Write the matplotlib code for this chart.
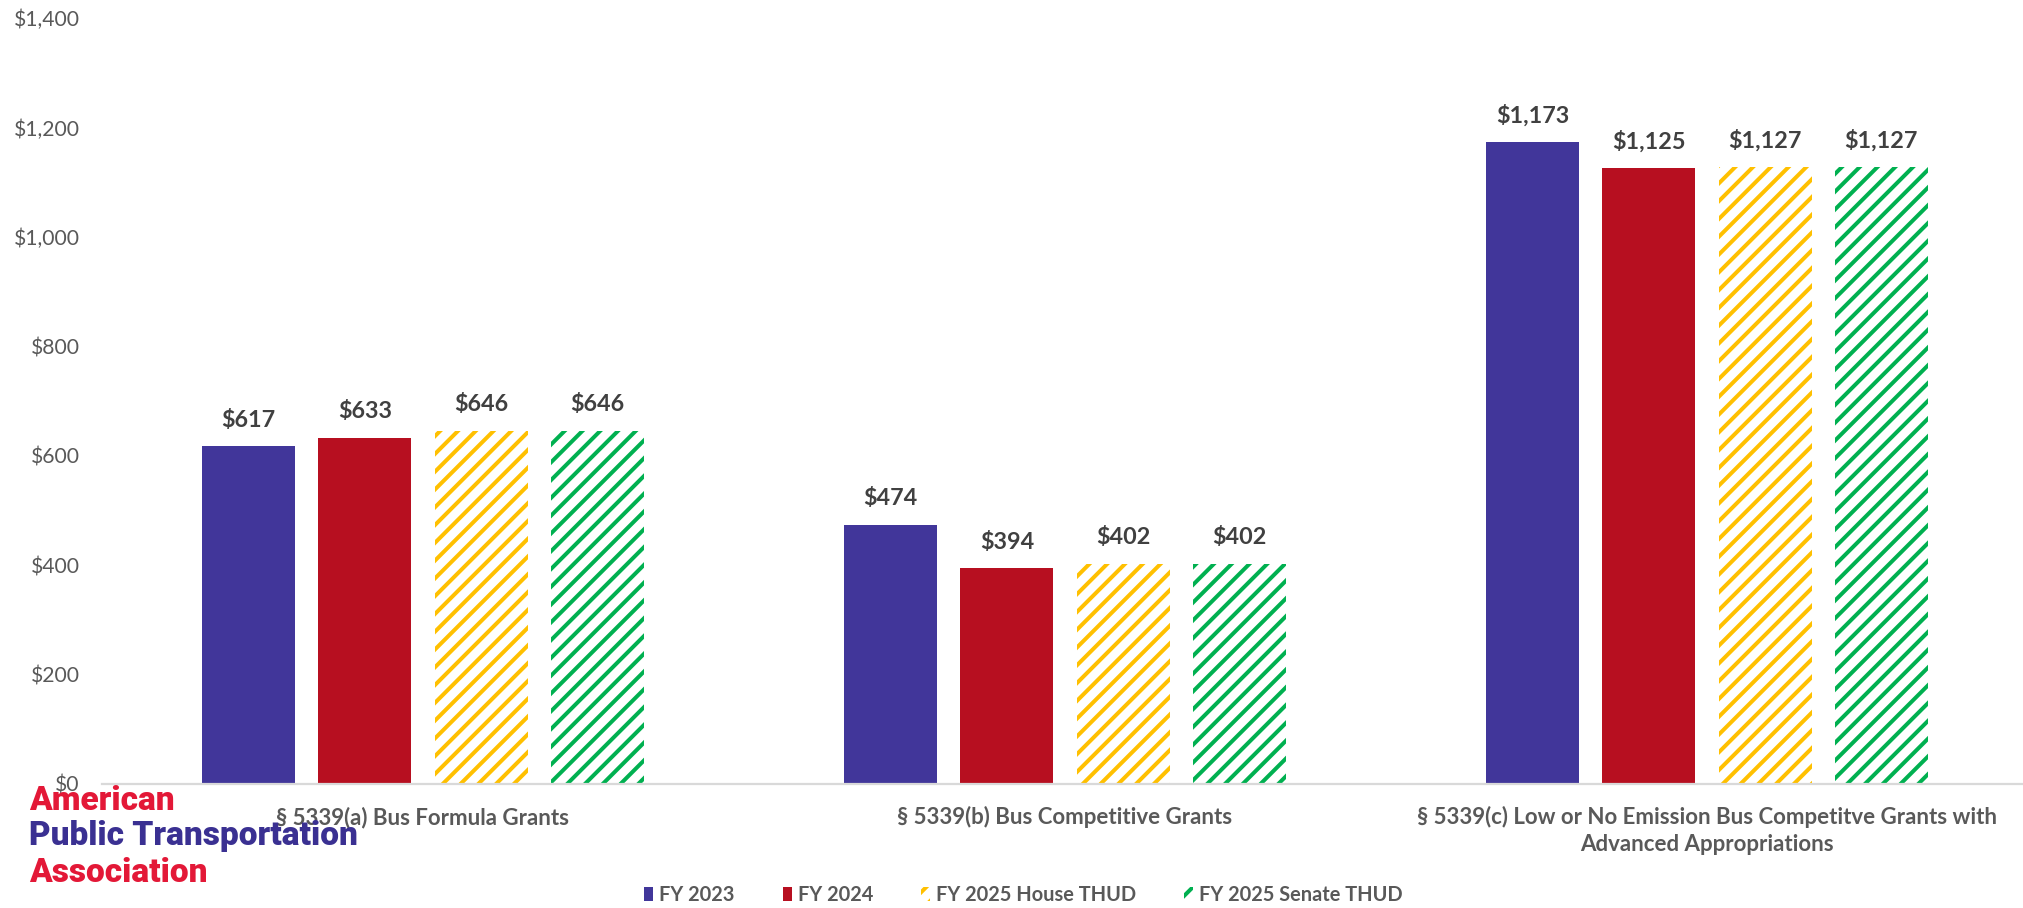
import matplotlib.pyplot as plt
import numpy as np

plt.rcParams['font.family'] = ['Lato', 'DejaVu Sans']
plt.rcParams['hatch.linewidth'] = 1.8

categories = ['§ 5339(a) Bus Formula Grants',
              '§ 5339(b) Bus Competitive Grants',
              '§ 5339(c) Low or No Emission Bus Competitve Grants with\nAdvanced Appropriations']
series = ['FY 2023', 'FY 2024', 'FY 2025 House THUD', 'FY 2025 Senate THUD']
fy2023 = [617, 474, 1173]
fy2024 = [633, 394, 1125]
house = [646, 402, 1127]
senate = [646, 402, 1127]
yticks = [0, 200, 400, 600, 800, 1000, 1200, 1400]

colors = ['#41369A', '#B70F20', '#FFC000', '#00B050']
hatched = [False, False, True, True]
values = [fy2023, fy2024, house, senate]

fig = plt.figure(figsize=(2023 / 160, 908 / 160), dpi=160)
ax = fig.add_axes([102 / 2023, 124 / 908, 1926 / 2023, 766 / 908])

x = np.arange(len(categories))
step = 0.181
width = 0.145
for i in range(4):
    off = (i - 1.5) * step
    if hatched[i]:
        bars = ax.bar(x + off, values[i], width, facecolor='white', edgecolor=colors[i],
                      linewidth=0, hatch='///', label=series[i])
    else:
        bars = ax.bar(x + off, values[i], width, color=colors[i], label=series[i])
    ax.bar_label(bars, fmt=lambda v: f'${v:,.0f}', padding=7, fontsize=10.5,
                 fontweight='bold', color='#404040')

ax.set_xlim(-0.5, 2.5)
ax.set_ylim(0, 1400)
ax.set_yticks(yticks)
ax.set_yticklabels([f'${v:,}' for v in yticks])
ax.set_xticks(x)
ax.set_xticklabels(categories, fontweight='bold', fontsize=10, color='#595959',
                   linespacing=1.35)
ax.tick_params(axis='y', length=0, pad=10, labelsize=9.5, labelcolor='#595959')
ax.tick_params(axis='x', length=0, pad=10)
for s in ['top', 'right', 'left']:
    ax.spines[s].set_visible(False)
ax.spines['bottom'].set_color('#D9D9D9')
ax.spines['bottom'].set_linewidth(1)

fig.legend(loc='lower center', bbox_to_anchor=(0.506, -0.012), ncol=4, frameon=False,
           handlelength=0.45, handleheight=0.7, handletextpad=0.3, columnspacing=2.4,
           borderpad=0.2, prop={'size': 9, 'weight': 'bold'}, labelcolor='#595959')

logo = [('American', '#E31837', 810), ('Public Transportation', '#3A3092', 845),
        ('Association', '#E31837', 882)]
for txt, col, yb in logo:
    fig.text(29 / 2023, 1 - yb / 908, txt, color=col, fontsize=15,
             fontweight='black', family='Roboto', va='baseline')

fig.savefig('out.png', dpi=160)
